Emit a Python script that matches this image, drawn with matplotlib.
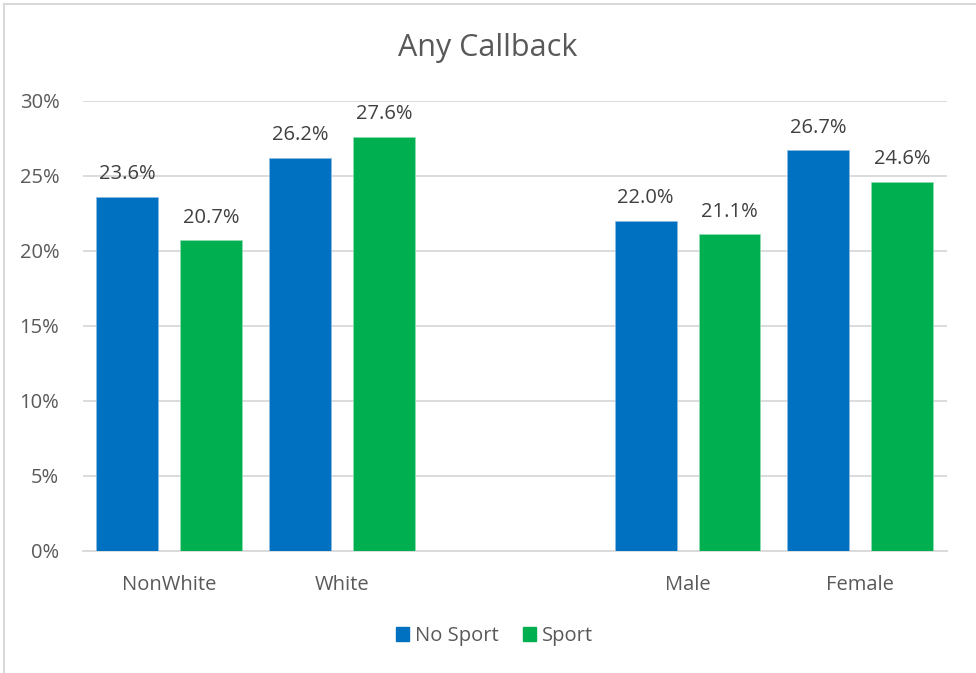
import numpy as np
import matplotlib.pyplot as plt
from matplotlib.patches import Patch
from matplotlib.lines import Line2D

plt.rcParams['font.family'] = ['Open Sans', 'DejaVu Sans']

categories = ["NonWhite", "White", "", "Male", "Female"]
no_sport = [23.6, 26.2, np.nan, 22.0, 26.7]
sport = [20.7, 27.6, np.nan, 21.1, 24.6]

blue = "#0070C0"
green = "#00B050"
text_col = "#595959"
grid_col = "#D9D9D9"

fig = plt.figure(figsize=(9.76, 6.73), dpi=100)
ax = fig.add_axes([0.085, 0.1813, 0.885, 0.6687])

x = np.arange(len(categories))
w = 0.358
off = 0.243

b1 = ax.bar(x - off, no_sport, w, color=blue, edgecolor="#8DBBE3", linewidth=0.5, zorder=3)
b2 = ax.bar(x + off, sport, w, color=green, edgecolor="#8FDDB0", linewidth=0.5, zorder=3)

# value labels above each bar
for bars, vals in ((b1, no_sport), (b2, sport)):
    for rect, v in zip(bars, vals):
        if np.isnan(v):
            continue
        ax.annotate(f"{v:.1f}%", (rect.get_x() + rect.get_width() / 2, v),
                    xytext=(0, 9), textcoords="offset points",
                    ha="center", va="bottom", fontsize=14.5, color="#404040")

ax.set_xlim(-0.5, len(categories) - 0.5)
ax.set_ylim(0, 30)
ax.set_yticks(range(0, 31, 5))
ax.set_yticklabels([f"{t}%" for t in range(0, 31, 5)])
ax.set_xticks(x)
ax.set_xticklabels(categories)
ax.tick_params(axis="both", length=0, labelsize=14.5, colors=text_col)
ax.tick_params(axis="y", pad=17)
ax.tick_params(axis="x", pad=17)

ax.grid(axis="y", color=grid_col, linewidth=1.3, zorder=0)
for s in ("top", "right", "left"):
    ax.spines[s].set_visible(False)
ax.spines["bottom"].set_color(grid_col)
ax.spines["bottom"].set_linewidth(1.3)

fig.text(0.5, 0.929, "Any Callback", ha="center", va="center", fontsize=22, color=text_col)

handles = [Patch(color=blue, label="No Sport"), Patch(color=green, label="Sport")]
fig.legend(handles=handles, loc="center", bbox_to_anchor=(0.507, 0.055), ncol=2,
           frameon=False, fontsize=14.5, labelcolor=text_col, handlelength=0.65,
           handleheight=0.65, handletextpad=0.3, columnspacing=1.2)

# chart frame: only the left and top edges show
bx, by = 3.5 / 976, 1 - 3.5 / 673
fig.add_artist(Line2D([bx, bx], [0, by], transform=fig.transFigure, color=grid_col, linewidth=1.5))
fig.add_artist(Line2D([bx, 1], [by, by], transform=fig.transFigure, color=grid_col, linewidth=1.5))

fig.savefig("out.png", dpi=100)
